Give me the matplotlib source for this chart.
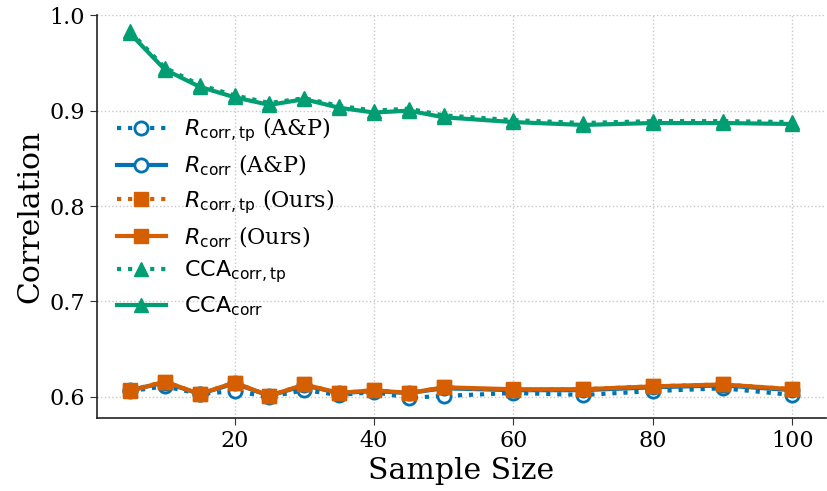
#!/usr/bin/env python3
"""
Correlation vs. sample size for R_corr and CCA_corr variants.
"""
import matplotlib
matplotlib.use("Agg")
import matplotlib.pyplot as plt

sample_sizes = [5, 10, 15, 20, 25, 30, 35, 40, 45, 50, 60, 70, 80, 90, 100]

r_tp_ap = [0.606, 0.611, 0.603, 0.606, 0.600, 0.607, 0.602, 0.605, 0.599, 0.601,
           0.604, 0.602, 0.606, 0.609, 0.602]
r_ap = [0.607, 0.615, 0.603, 0.614, 0.601, 0.612, 0.604, 0.606, 0.604, 0.609,
        0.607, 0.607, 0.610, 0.612, 0.607]
r_tp_ours = [0.607, 0.616, 0.603, 0.615, 0.601, 0.613, 0.604, 0.607, 0.604, 0.610,
             0.607, 0.608, 0.611, 0.613, 0.608]
r_ours = [0.606, 0.616, 0.603, 0.615, 0.601, 0.613, 0.604, 0.607, 0.604, 0.610,
          0.608, 0.608, 0.611, 0.613, 0.608]
cca_tp = [0.983, 0.945, 0.927, 0.916, 0.908, 0.913, 0.905, 0.900, 0.902, 0.895,
          0.890, 0.887, 0.889, 0.889, 0.888]
cca = [0.981, 0.943, 0.925, 0.914, 0.906, 0.912, 0.903, 0.898, 0.900, 0.893,
       0.888, 0.885, 0.887, 0.887, 0.886]

BLUE = "#0173b2"
ORANGE = "#d55e00"
GREEN = "#029e73"

plt.rcParams["font.family"] = "DejaVu Serif"
plt.rcParams["mathtext.fontset"] = "dejavusans"

fig, ax = plt.subplots(figsize=(8.28, 4.91), dpi=100)
fig.subplots_adjust(left=0.117, right=0.997, bottom=0.149, top=0.969)

lw = 3
ms = 9.5
ax.plot(sample_sizes, r_tp_ap, ls=":", color=BLUE, lw=lw, marker="o", ms=ms,
        mfc="white", mew=2, label=r"$R_{\mathrm{corr,tp}}$ (A&P)")
ax.plot(sample_sizes, r_ap, ls="-", color=BLUE, lw=lw, marker="o", ms=ms,
        mfc="white", mew=2, label=r"$R_{\mathrm{corr}}$ (A&P)")
ax.plot(sample_sizes, r_tp_ours, ls=":", color=ORANGE, lw=lw, marker="s", ms=ms,
        label=r"$R_{\mathrm{corr,tp}}$ (Ours)")
ax.plot(sample_sizes, r_ours, ls="-", color=ORANGE, lw=lw, marker="s", ms=ms,
        label=r"$R_{\mathrm{corr}}$ (Ours)")
ax.plot(sample_sizes, cca_tp, ls=":", color=GREEN, lw=lw, marker="^", ms=ms,
        label=r"$\mathrm{CCA}_{\mathrm{corr,tp}}$")
ax.plot(sample_sizes, cca, ls="-", color=GREEN, lw=lw, marker="^", ms=ms,
        label=r"$\mathrm{CCA}_{\mathrm{corr}}$")

ax.set_ylim(0.578, 1.0)
ax.set_yticks([0.6, 0.7, 0.8, 0.9, 1.0])
ax.set_xticks([20, 40, 60, 80, 100])
ax.grid(True, ls=":", color="#c8c8c8", lw=1)
ax.spines["top"].set_visible(False)
ax.spines["right"].set_visible(False)
for s in ("left", "bottom"):
    ax.spines[s].set_color("#222222")
    ax.spines[s].set_linewidth(1.2)
ax.tick_params(labelsize=16, length=5, color="#333333")

ax.set_xlabel("Sample Size", fontsize=21.5)
ax.set_ylabel("Correlation", fontsize=21.5)
ax.legend(loc="center left", bbox_to_anchor=(0.0, 0.5), frameon=False,
          fontsize=16, handlelength=2.2, labelspacing=0.4)

fig.savefig("out.png", dpi=100)
